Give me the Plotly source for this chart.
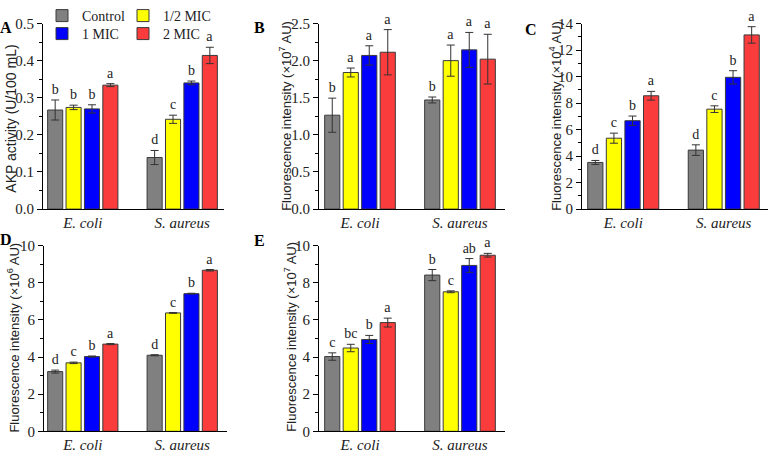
import plotly.graph_objects as go

# ---------------- data ----------------
groups = ["<i>E. coli</i>", "<i>S. aureus</i>"]
treatments = ["Control", "1/2 MIC", "1 MIC", "2 MIC"]
colors = ["#808080", "#ffff00", "#0000ff", "#fa3c3c"]

# Panel A: AKP activity (U/100 mL)  [E. coli, S. aureus] per treatment
a_mean = [[0.267, 0.139], [0.274, 0.242], [0.270, 0.340], [0.334, 0.414]]
a_err = [[0.027, 0.019], [0.006, 0.011], [0.011, 0.005], [0.004, 0.022]]
a_sig = [["b", "d"], ["b", "c"], ["b", "b"], ["a", "a"]]

# Panel B: fluorescence intensity (x10^7 AU)
b_mean = [[1.265, 1.47], [1.84, 2.00], [2.07, 2.145], [2.113, 2.02]]
b_err = [[0.23, 0.04], [0.06, 0.21], [0.13, 0.235], [0.305, 0.335]]
b_sig = [["b", "b"], ["a", "a"], ["a", "a"], ["a", "a"]]

# Panel C: fluorescence intensity (x10^4 AU)
c_mean = [[3.52, 4.45], [5.35, 7.54], [6.67, 9.94], [8.55, 13.14]]
c_err = [[0.15, 0.40], [0.38, 0.25], [0.35, 0.50], [0.33, 0.62]]
c_sig = [["d", "d"], ["c", "c"], ["b", "b"], ["a", "a"]]

# Panel D: fluorescence intensity (x10^6 AU)
d_mean = [[3.22, 4.10], [3.69, 6.38], [4.03, 7.42], [4.70, 8.68]]
d_err = [[0.08, 0.03], [0.04, 0.02], [0.03, 0.02], [0.03, 0.04]]
d_sig = [["d", "d"], ["c", "c"], ["b", "b"], ["a", "a"]]

# Panel E: fluorescence intensity (x10^7 AU)
e_mean = [[4.03, 8.42], [4.49, 7.52], [4.95, 8.94], [5.86, 9.49]]
e_err = [[0.20, 0.30], [0.20, 0.05], [0.22, 0.37], [0.24, 0.10]]
e_sig = [["c", "b"], ["bc", "c"], ["b", "ab"], ["a", "a"]]

# ---------------- layout helpers ----------------
W, H = 768, 456
SERIF = "Liberation Serif, Times New Roman, serif"
SANS = "Liberation Sans, Arial, sans-serif"
EDGE = "#3a3a3a"
ERRC = "#333333"


def px(x):
    return x / W


def py(y):
    return 1 - y / H


panels = [
    dict(s="", mean=a_mean, err=a_err, sig=a_sig, ymax=0.5, dtick=0.1, minor=0.05, fmt=".1f",
         xd=[px(43), px(224)], yd=[py(205), py(10)], xr=[-0.40, 1.42],
         title="AKP activity (U/100 mL)", tsize=14, tpos=(11, 110), letter="A", lpos=(6, 14)),
    dict(s="2", mean=b_mean, err=b_err, sig=b_sig, ymax=2.5, dtick=0.5, minor=0.25, fmt=".1f",
         xd=[px(319), px(505)], yd=[py(205), py(10)], xr=[-0.41, 1.45],
         title="Fluorescence intensity (×10<sup>7</sup> AU)", tsize=13, tpos=(285, 107), letter="B", lpos=(259, 14)),
    dict(s="3", mean=c_mean, err=c_err, sig=c_sig, ymax=14, dtick=2, minor=1, fmt="d",
         xd=[px(582), px(768)], yd=[py(205), py(10)], xr=[-0.41, 1.44],
         title="Fluorescence intensity (×10<sup>4</sup> AU)", tsize=13, tpos=(555, 107), letter="C", lpos=(531, 16)),
    dict(s="4", mean=d_mean, err=d_err, sig=d_sig, ymax=10, dtick=2, minor=1, fmt="d",
         xd=[px(44), px(227)], yd=[py(438.5), py(243.5)], xr=[-0.39, 1.45],
         title="Fluorescence intensity (×10<sup>6</sup> AU)", tsize=13, tpos=(13, 340), letter="D", lpos=(6, 237)),
    dict(s="5", mean=e_mean, err=e_err, sig=e_sig, ymax=10, dtick=2, minor=1, fmt="d",
         xd=[px(319), px(505)], yd=[py(438.5), py(243.5)], xr=[-0.41, 1.45],
         title="Fluorescence intensity (×10<sup>7</sup> AU)", tsize=13, tpos=(290, 339), letter="E", lpos=(259, 238)),
]

legend_ids = ["legend", "legend2", "legend3", "legend4"]
# legend entry anchor points (pixels): Control, 1/2 MIC / 1 MIC, 2 MIC
legend_pos = [(42, 2), (123, 2), (42, 21), (123, 21)]

fig = go.Figure()
annotations = []
layout_axes = {}

for p in panels:
    xa, ya = "x" + p["s"], "y" + p["s"]
    for i, t in enumerate(treatments):
        fig.add_trace(go.Bar(
            x=groups, y=p["mean"][i], name=t,
            marker=dict(color=colors[i], line=dict(color=EDGE, width=1)),
            error_y=dict(type="data", array=p["err"][i], color=ERRC, thickness=1, width=4),
            offsetgroup=str(i), xaxis=xa, yaxis=ya,
            showlegend=(p["s"] == ""), legend=legend_ids[i],
            legendgroup=t, hoverinfo="skip"))
    for i, t in enumerate(treatments):
        tops = [m + e for m, e in zip(p["mean"][i], p["err"][i])]
        fig.add_trace(go.Bar(
            x=groups, y=tops, name=t + " sig",
            marker=dict(color="rgba(0,0,0,0)", line=dict(width=0)),
            text=p["sig"][i], textposition="outside", cliponaxis=False,
            constraintext="none", textfont=dict(family=SERIF, size=14, color="#222"),
            offsetgroup=str(i), xaxis=xa, yaxis=ya, showlegend=False, hoverinfo="skip"))

    xkey = "xaxis" + p["s"]
    ykey = "yaxis" + p["s"]
    layout_axes[xkey] = dict(
        domain=p["xd"], anchor=ya, type="category", range=p["xr"],
        showline=True, linecolor="black", linewidth=1, ticks="",
        tickfont=dict(family=SERIF, size=15, color="#222"),
        showgrid=False, zeroline=False, fixedrange=True)
    layout_axes[ykey] = dict(
        domain=p["yd"], anchor=xa, range=[0, p["ymax"]], tick0=0, dtick=p["dtick"],
        tickformat=p["fmt"], ticks="outside", ticklen=5, tickwidth=1, tickcolor="black",
        minor=dict(ticks="outside", ticklen=3, dtick=p["minor"], tick0=0, tickcolor="black", showgrid=False),
        showline=True, linecolor="black", linewidth=1,
        tickfont=dict(family=SERIF, size=15, color="#222"),
        showgrid=False, zeroline=False, fixedrange=True)

    annotations.append(dict(
        text=p["title"], xref="paper", yref="paper", x=px(p["tpos"][0]), y=py(p["tpos"][1]),
        xanchor="center", yanchor="middle", textangle=-90, showarrow=False,
        font=dict(family=SANS, size=p["tsize"], color="#222")))
    annotations.append(dict(
        text="<b>" + p["letter"] + "</b>", xref="paper", yref="paper",
        x=px(p["lpos"][0]), y=py(p["lpos"][1]), xanchor="center", yanchor="middle",
        showarrow=False, font=dict(family=SERIF, size=16, color="black")))

legend_common = dict(
    orientation="h", xanchor="left", yanchor="middle",
    font=dict(family=SERIF, size=14, color="#222"),
    bgcolor="rgba(0,0,0,0)",
    itemclick=False, itemdoubleclick=False)

legend_layout = {
    lid: dict(x=px(pos[0]), y=py(pos[1]), **legend_common)
    for lid, pos in zip(legend_ids, legend_pos)
}

fig.update_layout(
    width=W, height=H, autosize=False,
    margin=dict(l=0, r=0, t=0, b=0, pad=0),
    paper_bgcolor="white", plot_bgcolor="white",
    barmode="group", bargap=0.26, bargroupgap=0.18,
    annotations=annotations,
    **legend_layout,
    **layout_axes)

fig.write_html("out.html", post_script="document.body.style.margin='0';",
               config={"displayModeBar": False})
